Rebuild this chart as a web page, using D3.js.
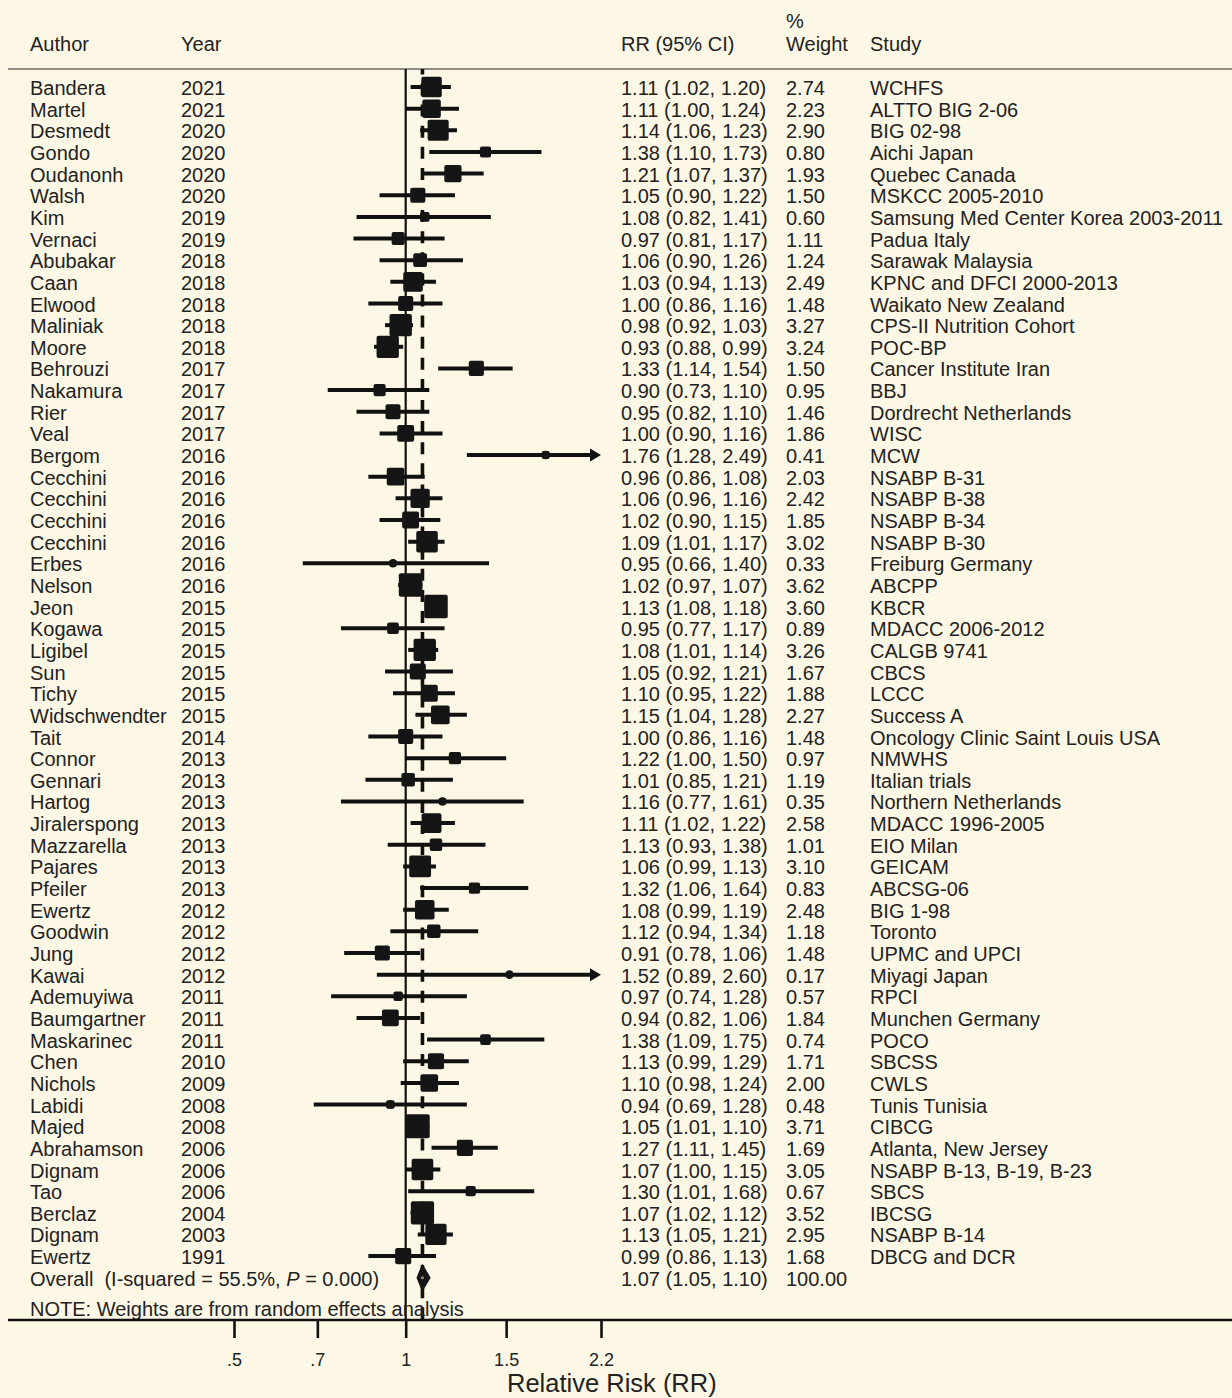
<!DOCTYPE html>
<html>
<head>
<meta charset="utf-8">
<script src="https://cdn.jsdelivr.net/npm/d3@7"></script>
<style>
  html, body { margin: 0; padding: 0; background: #fdf8e5; }
  svg { display: block; }
  text { font-family: "Liberation Sans", Arial, Helvetica, sans-serif; fill: #222; }
</style>
</head>
<body>
<svg id="chart" width="1232" height="1398"></svg>
<script>
// Study-level data for the forest plot (top to bottom)
const authors = ["Bandera","Martel","Desmedt","Gondo","Oudanonh","Walsh","Kim","Vernaci","Abubakar","Caan",
  "Elwood","Maliniak","Moore","Behrouzi","Nakamura","Rier","Veal","Bergom","Cecchini","Cecchini",
  "Cecchini","Cecchini","Erbes","Nelson","Jeon","Kogawa","Ligibel","Sun","Tichy","Widschwendter",
  "Tait","Connor","Gennari","Hartog","Jiralerspong","Mazzarella","Pajares","Pfeiler","Ewertz","Goodwin",
  "Jung","Kawai","Ademuyiwa","Baumgartner","Maskarinec","Chen","Nichols","Labidi","Majed","Abrahamson",
  "Dignam","Tao","Berclaz","Dignam","Ewertz"];
const years = [2021,2021,2020,2020,2020,2020,2019,2019,2018,2018,
  2018,2018,2018,2017,2017,2017,2017,2016,2016,2016,
  2016,2016,2016,2016,2015,2015,2015,2015,2015,2015,
  2014,2013,2013,2013,2013,2013,2013,2013,2012,2012,
  2012,2012,2011,2011,2011,2010,2009,2008,2008,2006,
  2006,2006,2004,2003,1991];
const rr = [1.11,1.11,1.14,1.38,1.21,1.05,1.08,0.97,1.06,1.03,
  1.00,0.98,0.93,1.33,0.90,0.95,1.00,1.76,0.96,1.06,
  1.02,1.09,0.95,1.02,1.13,0.95,1.08,1.05,1.10,1.15,
  1.00,1.22,1.01,1.16,1.11,1.13,1.06,1.32,1.08,1.12,
  0.91,1.52,0.97,0.94,1.38,1.13,1.10,0.94,1.05,1.27,
  1.07,1.30,1.07,1.13,0.99];
const ciLow = [1.02,1.00,1.06,1.10,1.07,0.90,0.82,0.81,0.90,0.94,
  0.86,0.92,0.88,1.14,0.73,0.82,0.90,1.28,0.86,0.96,
  0.90,1.01,0.66,0.97,1.08,0.77,1.01,0.92,0.95,1.04,
  0.86,1.00,0.85,0.77,1.02,0.93,0.99,1.06,0.99,0.94,
  0.78,0.89,0.74,0.82,1.09,0.99,0.98,0.69,1.01,1.11,
  1.00,1.01,1.02,1.05,0.86];
const ciHigh = [1.20,1.24,1.23,1.73,1.37,1.22,1.41,1.17,1.26,1.13,
  1.16,1.03,0.99,1.54,1.10,1.10,1.16,2.49,1.08,1.16,
  1.15,1.17,1.40,1.07,1.18,1.17,1.14,1.21,1.22,1.28,
  1.16,1.50,1.21,1.61,1.22,1.38,1.13,1.64,1.19,1.34,
  1.06,2.60,1.28,1.06,1.75,1.29,1.24,1.28,1.10,1.45,
  1.15,1.68,1.12,1.21,1.13];
const weights = [2.74,2.23,2.90,0.80,1.93,1.50,0.60,1.11,1.24,2.49,
  1.48,3.27,3.24,1.50,0.95,1.46,1.86,0.41,2.03,2.42,
  1.85,3.02,0.33,3.62,3.60,0.89,3.26,1.67,1.88,2.27,
  1.48,0.97,1.19,0.35,2.58,1.01,3.10,0.83,2.48,1.18,
  1.48,0.17,0.57,1.84,0.74,1.71,2.00,0.48,3.71,1.69,
  3.05,0.67,3.52,2.95,1.68];
const studies = ["WCHFS","ALTTO BIG 2-06","BIG 02-98","Aichi Japan","Quebec Canada","MSKCC 2005-2010",
  "Samsung Med Center Korea 2003-2011","Padua Italy","Sarawak Malaysia","KPNC and DFCI 2000-2013",
  "Waikato New Zealand","CPS-II Nutrition Cohort","POC-BP","Cancer Institute Iran","BBJ",
  "Dordrecht Netherlands","WISC","MCW","NSABP B-31","NSABP B-38","NSABP B-34","NSABP B-30",
  "Freiburg Germany","ABCPP","KBCR","MDACC 2006-2012","CALGB 9741","CBCS","LCCC","Success A",
  "Oncology Clinic Saint Louis USA","NMWHS","Italian trials","Northern Netherlands","MDACC 1996-2005",
  "EIO Milan","GEICAM","ABCSG-06","BIG 1-98","Toronto","UPMC and UPCI","Miyagi Japan","RPCI",
  "Munchen Germany","POCO","SBCSS","CWLS","Tunis Tunisia","CIBCG","Atlanta, New Jersey",
  "NSABP B-13, B-19, B-23","SBCS","IBCSG","NSABP B-14","DBCG and DCR"];

// Pooled random-effects estimate
const overall = { rr: 1.07, low: 1.05, high: 1.10, weight: 100.00, i2: "55.5%", p: "0.000" };

// Axis ticks
const tickValues = [0.5, 0.7, 1, 1.5, 2.2];
const tickLabels = [".5", ".7", "1", "1.5", "2.2"];

const headers = { author: "Author", year: "Year", rr: "RR (95% CI)", pct: "%", weight: "Weight", study: "Study" };
const axisTitle = "Relative Risk (RR)";
const note = "NOTE: Weights are from random effects analysis";

// ---------- layout ----------
const W = 1232, H = 1398;
const fs = 20;
const col = { author: 30, year: 181, rr: 621, weight: 786, study: 870 };
const headerLineY = 69, axisY = 1320;
const nRows = authors.length + 1;            // studies + overall row
const baseline = d3.scaleLinear().domain([0, nRows - 1]).range([95, 95 + (nRows - 1) * 21.65]);
const markY = i => baseline(i) - 8;

const x = d3.scaleLog().domain([0.5, 2.2]).range([234, 601]);
const xMin = x.domain()[0], xMax = x.domain()[1];
const boxK = 12.4;                             // box side = boxK * sqrt(weight)

const svg = d3.select("#chart");
svg.append("rect").attr("width", W).attr("height", H).attr("fill", "#fdf8e5");

const fmt = d3.format(".2f");

// ---------- header ----------
const hdr = svg.append("g").style("font-size", fs + "px");
hdr.append("text").attr("x", col.author).attr("y", 51).text(headers.author);
hdr.append("text").attr("x", col.year).attr("y", 51).text(headers.year);
hdr.append("text").attr("x", col.rr).attr("y", 51).text(headers.rr);
hdr.append("text").attr("x", col.weight).attr("y", 28).text(headers.pct);
hdr.append("text").attr("x", col.weight).attr("y", 51).text(headers.weight);
hdr.append("text").attr("x", col.study).attr("y", 51).text(headers.study);

svg.append("line").attr("x1", 8).attr("x2", W).attr("y1", headerLineY).attr("y2", headerLineY)
  .attr("stroke", "#8f8c84").attr("stroke-width", 2);

// ---------- reference lines ----------
svg.append("line").attr("x1", x(1)).attr("x2", x(1)).attr("y1", headerLineY).attr("y2", axisY)
  .attr("stroke", "#111").attr("stroke-width", 2.2);
svg.append("line").attr("x1", x(overall.rr)).attr("x2", x(overall.rr)).attr("y1", headerLineY).attr("y2", axisY)
  .attr("stroke", "#111").attr("stroke-width", 3.6)
  .attr("stroke-dasharray", "12,9.1").attr("stroke-dashoffset", 6.6);

// ---------- study rows ----------
const rows = d3.range(authors.length).map(i => ({
  i, author: authors[i], year: years[i], rr: rr[i], lo: ciLow[i], hi: ciHigh[i], w: weights[i], study: studies[i]
}));

const marks = svg.append("g");
// confidence intervals
marks.selectAll("line.ci").data(rows).join("line")
  .attr("class", "ci")
  .attr("x1", d => x(Math.max(d.lo, xMin)))
  .attr("x2", d => d.hi > xMax ? x(xMax) - 8 : x(d.hi))
  .attr("y1", d => markY(d.i)).attr("y2", d => markY(d.i))
  .attr("stroke", "#111").attr("stroke-width", 4);
// arrows for intervals running past the axis range
marks.selectAll("path.arrow").data(rows.filter(d => d.hi > xMax)).join("path")
  .attr("class", "arrow")
  .attr("d", d => {
    const xe = x(xMax), y = markY(d.i);
    return `M${xe},${y} L${xe - 11},${y - 6.5} L${xe - 11},${y + 6.5} Z`;
  })
  .attr("fill", "#111");
// weight boxes
marks.selectAll("rect.box").data(rows).join("rect")
  .attr("class", "box")
  .attr("x", d => x(d.rr) - boxK * Math.sqrt(d.w) / 2)
  .attr("y", d => markY(d.i) - boxK * Math.sqrt(d.w) / 2)
  .attr("width", d => boxK * Math.sqrt(d.w))
  .attr("height", d => boxK * Math.sqrt(d.w))
  .attr("rx", 2).attr("fill", "#151515");
// point estimates
marks.selectAll("circle.pt").data(rows).join("circle")
  .attr("class", "pt")
  .attr("cx", d => x(d.rr)).attr("cy", d => markY(d.i)).attr("r", 4.3)
  .attr("fill", "#151515");

// row text
const txt = svg.append("g").style("font-size", fs + "px");
const rowText = txt.selectAll("g.row").data(rows).join("g").attr("class", "row");
rowText.append("text").attr("x", col.author).attr("y", d => baseline(d.i)).text(d => d.author);
rowText.append("text").attr("x", col.year).attr("y", d => baseline(d.i)).text(d => d.year);
rowText.append("text").attr("x", col.rr).attr("y", d => baseline(d.i))
  .text(d => `${fmt(d.rr)} (${fmt(d.lo)}, ${fmt(d.hi)})`);
rowText.append("text").attr("x", col.weight).attr("y", d => baseline(d.i)).text(d => fmt(d.w));
rowText.append("text").attr("x", col.study).attr("y", d => baseline(d.i)).text(d => d.study);

// ---------- overall row ----------
const oi = authors.length;
const oy = markY(oi);
const dh = 11.5;
svg.append("path")
  .attr("d", `M${x(overall.low)},${oy} L${x(overall.rr)},${oy - dh} L${x(overall.high)},${oy} L${x(overall.rr)},${oy + dh} Z`)
  .attr("fill", "#151515").attr("stroke", "#151515").attr("stroke-width", 2.4);
svg.append("circle").attr("cx", x(overall.rr)).attr("cy", oy).attr("r", 1.6).attr("fill", "#8a8a80");

const ot = txt.append("text").attr("x", col.author).attr("y", baseline(oi));
ot.append("tspan").text(`Overall\u00a0\u00a0(I-squared = ${overall.i2}, `);
ot.append("tspan").style("font-style", "italic").text("P");
ot.append("tspan").text(` = ${overall.p})`);
txt.append("text").attr("x", col.rr).attr("y", baseline(oi))
  .text(`${fmt(overall.rr)} (${fmt(overall.low)}, ${fmt(overall.high)})`);
txt.append("text").attr("x", col.weight).attr("y", baseline(oi)).text(fmt(overall.weight));

// note
txt.append("text").attr("x", col.author).attr("y", 1316).text(note);

// ---------- x axis ----------
svg.append("line").attr("x1", 8).attr("x2", W).attr("y1", axisY).attr("y2", axisY)
  .attr("stroke", "#111").attr("stroke-width", 2.4);
const axis = d3.axisBottom(x)
  .tickValues(tickValues)
  .tickFormat((d, i) => tickLabels[i])
  .tickSize(18).tickPadding(15);
const ax = svg.append("g").attr("transform", `translate(0,${axisY})`).call(axis);
ax.select(".domain").remove();
ax.selectAll(".tick line").attr("stroke", "#111").attr("stroke-width", 2.6);
ax.selectAll(".tick text")
  .style("font-family", "'Liberation Sans', Arial, sans-serif")
  .style("font-size", "18px").attr("fill", "#222");

svg.append("text").attr("x", 507).attr("y", 1392)
  .style("font-size", "25.5px").text(axisTitle);
</script>
</body>
</html>
